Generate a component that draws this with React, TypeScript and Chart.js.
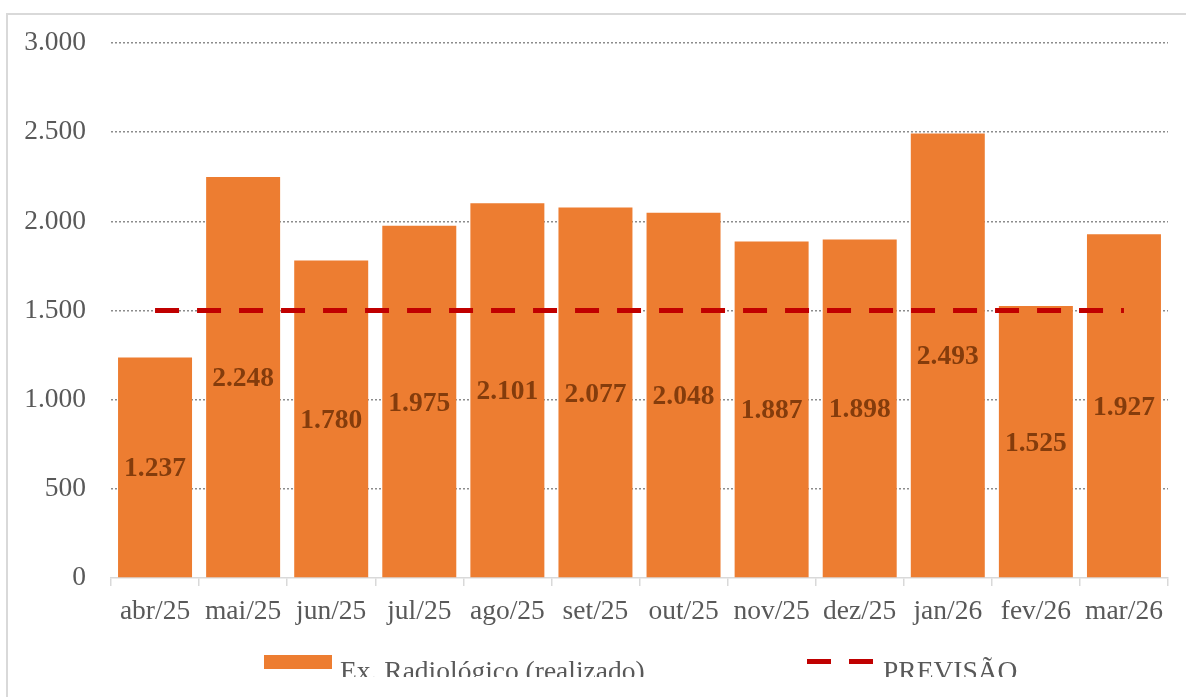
import React, { useEffect, useRef } from "react";
import { Chart, registerables } from "chart.js";

Chart.register(...registerables);

const categories = ["abr/25", "mai/25", "jun/25", "jul/25", "ago/25", "set/25", "out/25", "nov/25", "dez/25", "jan/26", "fev/26", "mar/26"];
const realizado = [1237, 2248, 1780, 1975, 2101, 2077, 2048, 1887, 1898, 2493, 1525, 1927];
const previsao = [1500, 1500, 1500, 1500, 1500, 1500, 1500, 1500, 1500, 1500, 1500, 1500];
const seriesNames = ["Ex. Radiológico (realizado)", "PREVISÃO"];

const ORANGE = "#ED7D31";
const RED = "#C00000";
const TEXT = "#595959";
const LABEL = "#843C0C";
const FONT = "'Liberation Serif', 'Times New Roman', serif";
const FS = 27.5;

const fmt = (v: number) => v.toLocaleString("de-DE");

const barLabels = {
  id: "barLabels",
  afterDatasetsDraw(chart: any) {
    const ctx = chart.ctx;
    const meta = chart.getDatasetMeta(0);
    ctx.save();
    ctx.font = `bold ${FS}px ${FONT}`;
    ctx.fillStyle = LABEL;
    ctx.textAlign = "center";
    ctx.textBaseline = "middle";
    meta.data.forEach((bar: any, i: number) => {
      const y = (bar.y + bar.base) / 2 + 2;
      ctx.fillText(fmt(realizado[i]), bar.x, y);
    });
    ctx.restore();
  },
};

const customLegend = {
  id: "customLegend",
  afterDraw(chart: any) {
    const ctx = chart.ctx;
    ctx.save();
    ctx.beginPath();
    ctx.rect(0, 0, chart.width, 677);
    ctx.clip();
    ctx.fillStyle = ORANGE;
    ctx.fillRect(264, 655, 68, 14);
    ctx.font = `${FS}px ${FONT}`;
    ctx.fillStyle = TEXT;
    ctx.textAlign = "left";
    ctx.textBaseline = "alphabetic";
    ctx.fillText(seriesNames[0], 340, 680);
    ctx.strokeStyle = RED;
    ctx.lineWidth = 5;
    ctx.setLineDash([24, 18]);
    ctx.beginPath();
    ctx.moveTo(807, 661.5);
    ctx.lineTo(873, 661.5);
    ctx.stroke();
    ctx.setLineDash([]);
    ctx.fillText(seriesNames[1], 883, 680);
    ctx.restore();
  },
};

export default function App() {
  const ref = useRef<HTMLCanvasElement | null>(null);
  useEffect(() => {
    if (!ref.current) return;
    const chart = new Chart(ref.current, {
      type: "bar",
      data: {
        labels: categories,
        datasets: [
          {
            type: "bar",
            label: seriesNames[0],
            data: realizado,
            backgroundColor: ORANGE,
            categoryPercentage: 1,
            barPercentage: 0.84,
            order: 2,
          },
          {
            type: "line",
            label: seriesNames[1],
            data: previsao,
            borderColor: RED,
            backgroundColor: RED,
            borderWidth: 5,
            borderDash: [24, 18],
            borderCapStyle: "butt",
            pointRadius: 0,
            fill: false,
            order: 1,
          },
        ],
      } as any,
      options: {
        animation: false,
        responsive: false,
        maintainAspectRatio: false,
        layout: { padding: { top: 43, left: 0, right: 18, bottom: 0 } },
        plugins: { legend: { display: false }, tooltip: { enabled: false } },
        scales: {
          x: {
            grid: {
              drawOnChartArea: false,
              drawTicks: true,
              tickLength: 8,
              color: "#d9d9d9",
              lineWidth: 1.5,
            },
            border: { display: true, color: "#d9d9d9", width: 1.5 },
            ticks: { color: TEXT, font: { family: FONT, size: FS }, padding: 9, maxRotation: 0, autoSkip: false },
            afterFit: (s: any) => { s.height = 119; },
          },
          y: {
            min: 0,
            max: 3000,
            ticks: { stepSize: 500, color: TEXT, font: { family: FONT, size: FS }, padding: 25, callback: (v: any) => fmt(Number(v)) },
            grid: {
              drawTicks: false,
              color: (c: any) => (c.tick && c.tick.value === 0 ? "rgba(0,0,0,0)" : "#8c8c8c"),
              lineWidth: 1.5,
            },
            border: { display: false, dash: [2, 2] },
            afterFit: (s: any) => { s.width = 111; },
          } as any,
        },
      } as any,
      plugins: [barLabels, customLegend],
    });
    return () => chart.destroy();
  }, []);
  return (
    <>
      <div
        style={{
          position: "fixed",
          left: 6,
          top: 13,
          width: 1300,
          height: 800,
          borderLeft: "2px solid #d9d9d9",
          borderTop: "2px solid #d9d9d9",
        }}
      />
      <canvas
        ref={ref}
        width={1186}
        height={697}
        style={{ position: "fixed", left: 0, top: 0, width: 1186, height: 697 }}
      />
    </>
  );
}
